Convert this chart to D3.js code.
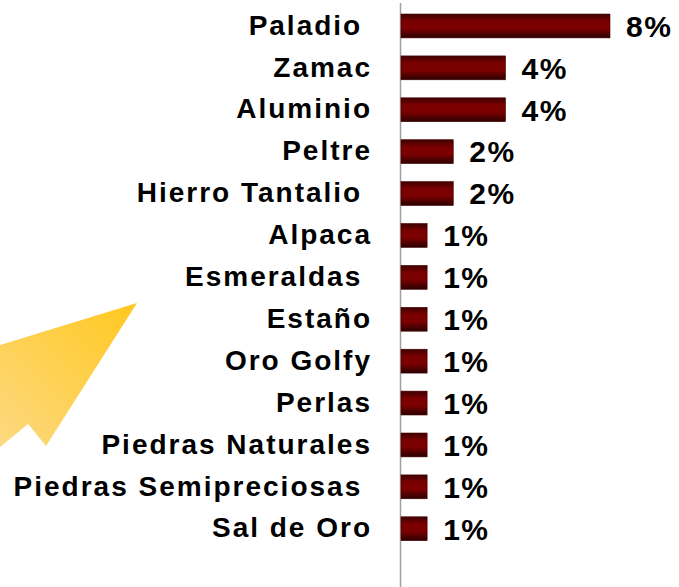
<!DOCTYPE html>
<html>
<head>
<meta charset="utf-8">
<script src="https://cdn.jsdelivr.net/npm/d3@7"></script>
<style>
  html, body { margin: 0; padding: 0; background: #fff; }
  svg { display: block; }
  text { font-family: "Liberation Sans", Arial, sans-serif; font-weight: bold; white-space: pre; }
</style>
</head>
<body>
<svg id="chart" width="679" height="587"></svg>
<script>
const categories = ["Paladio ", "Zamac", "Aluminio", "Peltre", "Hierro Tantalio ", "Alpaca", "Esmeraldas ", "Estaño", "Oro Golfy", "Perlas", "Piedras Naturales", "Piedras Semipreciosas ", "Sal de Oro"];
const values = [8, 4, 4, 2, 2, 1, 1, 1, 1, 1, 1, 1, 1];
const valueLabels = ["8%", "4%", "4%", "2%", "2%", "1%", "1%", "1%", "1%", "1%", "1%", "1%", "1%"];

const svg = d3.select("#chart");
const defs = svg.append("defs");

const barGrad = defs.append("linearGradient").attr("id", "barGrad")
  .attr("x1", 0).attr("y1", 0).attr("x2", 0).attr("y2", 1);
[["0%", "#3c0000"], ["30%", "#7a0000"], ["60%", "#7c0000"], ["100%", "#2a0000"]].forEach(([o, c]) =>
  barGrad.append("stop").attr("offset", o).attr("stop-color", c));

const arrowGrad = defs.append("linearGradient").attr("id", "arrowGrad")
  .attr("gradientUnits", "userSpaceOnUse")
  .attr("x1", 0).attr("y1", 440).attr("x2", 137).attr("y2", 303);
arrowGrad.append("stop").attr("offset", "0%").attr("stop-color", "#fdd87e");
arrowGrad.append("stop").attr("offset", "100%").attr("stop-color", "#ffc81e");

// decorative arrow
svg.append("polygon")
  .attr("points", [[0, 345], [137, 303], [46, 446], [28, 424], [0, 447]].map(p => p.join(",")).join(" "))
  .attr("fill", "url(#arrowGrad)");

const y = d3.scaleBand().domain(categories).range([-4, 558.7]).paddingInner(0.43).paddingOuter(0.43);
const x = d3.scaleLinear().domain([0, 8]).range([401, 610]);

// axis line
svg.append("line")
  .attr("x1", 400.5).attr("x2", 400.5).attr("y1", 3).attr("y2", 587)
  .attr("stroke", "#a0a0a0").attr("stroke-width", 1.5);

svg.selectAll("rect.bar").data(values).enter().append("rect")
  .attr("class", "bar")
  .attr("x", x(0))
  .attr("y", (d, i) => y(categories[i]))
  .attr("width", d => x(d) - x(0))
  .attr("height", y.bandwidth())
  .attr("fill", "url(#barGrad)")
  .attr("stroke", "#4a0000").attr("stroke-width", 0.6);

svg.selectAll("text.cat").data(categories).enter().append("text")
  .attr("class", "cat")
  .attr("x", 372)
  .attr("y", d => y(d) + y.bandwidth() / 2)
  .attr("dy", "0.31em")
  .attr("text-anchor", "end")
  .attr("font-size", 28)
  .attr("letter-spacing", 2.0)
  .attr("fill", "#000")
  .text(d => d);

svg.selectAll("text.val").data(values).enter().append("text")
  .attr("class", "val")
  .attr("x", d => x(d) + 16)
  .attr("y", (d, i) => y(categories[i]) + y.bandwidth() / 2)
  .attr("dy", "0.36em")
  .attr("font-size", 30)
  .attr("letter-spacing", 1.5)
  .attr("fill", "#000")
  .text((d, i) => valueLabels[i]);
</script>
</body>
</html>
